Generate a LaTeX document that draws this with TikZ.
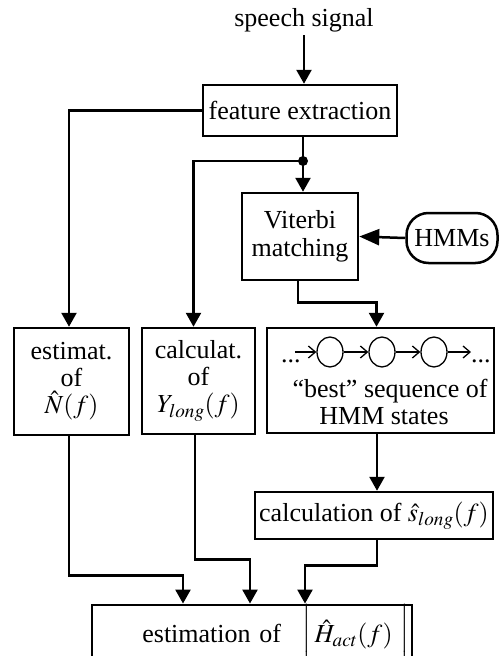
\documentclass[tikz,border=0pt]{standalone}
\usepackage{mathptmx}
\usepackage[no-math]{fontspec}
\setmainfont{Liberation Serif}
\usetikzlibrary{arrows.meta,shapes.geometric,calc}

\begin{document}
\begin{tikzpicture}[x=1pt,y=-1pt,
  font=\fontsize{26}{27}\selectfont,
  box/.style={draw,line width=2.5pt,inner sep=0pt,align=center},
  link/.style={line width=2.5pt},
  arr/.style={line width=2.5pt,-{Triangle[length=14pt,width=15pt]}},
  state/.style={draw,ellipse,line width=1.3pt,minimum width=26pt,minimum height=30pt,inner sep=0pt},
  chain/.style={line width=1.3pt,-{Straight Barb[length=7pt,width=12pt]}},
]
\useasboundingbox (0,0) rectangle (503,656);

% blocks
\node (sig) at (304,20) {speech signal};
\node[box,minimum width=194pt,minimum height=51pt] (fe) at (300,110.5) {feature extraction};
\coordinate (dot) at (303,161);
\node[box,minimum width=116pt,minimum height=87pt] (vit) at (300,236.5) {Viterbi\\[1pt]matching};
\node[box,rounded corners=22pt,minimum width=91pt,minimum height=50pt] (hmm) at (452,238) {HMMs};
\node[box,minimum width=115pt,minimum height=107pt] (est) at (71.5,381.5) {estimat.\\of\\$\hat{N}(f)$};
\node[box,minimum width=113pt,minimum height=106pt] (cal) at (198.5,381) {calculat.\\of\\$Y_{long}(f)$};
\node[box,minimum width=227pt,minimum height=105pt] (best) at (380.5,380.5) {};
\node[box,minimum width=238pt,minimum height=47pt] (cs) at (374,515.5) {calculation of $\hat{s}_{long}(f)$};
\node[box,minimum width=320pt,minimum height=48pt,text width=314pt,align=right] (bot) at (252,636)
  {estimation of\hspace{22pt}$\biggl|\,\hat{H}_{act}(f)\;\biggr|$};

% state sequence inside the "best" block
\node[state] (s1) at (330,352) {};
\node[state] (s2) at (382,352) {};
\node[state] (s3) at (434,352) {};
\node[anchor=base west,inner sep=0pt] (dl) at (281,362) {...};
\node[anchor=base west,inner sep=0pt] (dr) at (471,362) {...};
\draw[chain] ([xshift=-6pt]dl.east |- s1.west) -- (s1.west);
\draw[chain] (s1.east) -- (s2.west);
\draw[chain] (s2.east) -- (s3.west);
\draw[chain] (s3.east) -- (dr.west |- s3.east);
\node (bestA) at (390,391) {``best'' sequence of};
\node (bestB) at (384,416) {HMM states};

% connectors
\draw[arr] (sig.south) -- (sig.south |- fe.north);
\draw[arr] (fe.west) -| ([xshift=-2.5pt]est.north);
\draw[link] (fe.south -| dot) -- (dot);
\fill (dot) circle (5pt);
\draw[arr] (dot) -- (dot |- vit.north);
\draw[arr] (dot) -| ([xshift=-5pt]cal.north);
\draw[line width=2.5pt,-{Triangle[length=20pt,width=16pt]}] (hmm.west) -- (vit.east);
\draw[arr] ([xshift=-2pt]vit.south) -- ++(0,21) -| ([xshift=-4pt]best.north);
\draw[arr] ([xshift=-3.5pt]best.south) -- ([xshift=3pt]cs.north);
\draw[arr] ([xshift=-2.5pt]est.south) -- ++(0,139) -| ([xshift=-69pt]bot.north);
\draw[arr] ([xshift=-3.5pt]cal.south) -- ++(0,124) -| ([xshift=-2pt]bot.north);
\draw[arr] ([xshift=3pt]cs.south) -- ++(0,25) -| ([xshift=53pt]bot.north);
\end{tikzpicture}
\end{document}
